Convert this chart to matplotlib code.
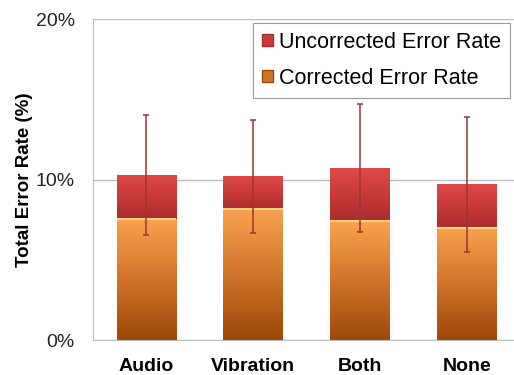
import numpy as np
import matplotlib.pyplot as plt
from matplotlib.colors import LinearSegmentedColormap
from matplotlib.patches import Patch

plt.rcParams['font.family'] = ['Liberation Sans', 'DejaVu Sans']

# data (percent)
conditions = ["Audio", "Vibration", "Both", "None"]
corrected = [7.55, 8.15, 7.4, 7.0]
total = [10.3, 10.2, 10.7, 9.7]
total_err = [3.75, 3.52, 4.0, 4.2]
uncorrected = [t - c for t, c in zip(total, corrected)]
yticks = [0, 10, 20]

orange_cmap = LinearSegmentedColormap.from_list("orange", ["#9C4808", "#D0742A", "#F9A24E"])
red_cmap = LinearSegmentedColormap.from_list("red", ["#A82C2C", "#C93A3A", "#DE4949"])

fig = plt.figure(figsize=(5.14, 3.75), dpi=100)
ax = fig.add_axes([0.181, 0.0933, 0.832, 0.856])

x = np.arange(len(conditions))
width = 0.56
grad = np.linspace(0, 1, 256).reshape(-1, 1)

bars_c = ax.bar(x, corrected, width, color="none", edgecolor="none", zorder=2)
bars_u = ax.bar(x, uncorrected, width, bottom=corrected, color="none", edgecolor="none", zorder=2)

# fill each bar with a vertical gradient clipped to its shape
for bars, cmap in [(bars_c, orange_cmap), (bars_u, red_cmap)]:
    for b in bars:
        x0, y0 = b.get_x(), b.get_y()
        x1, y1 = x0 + b.get_width(), y0 + b.get_height()
        im = ax.imshow(grad, extent=[x0, x1, y0, y1], origin="lower", aspect="auto",
                       cmap=cmap, zorder=2)
        im.set_clip_path(b)

# light highlight at the top of the corrected segment
for xi, c in zip(x, corrected):
    ax.plot([xi - width / 2, xi + width / 2], [c, c], color="#FFD37E", lw=1.5, zorder=3,
            solid_capstyle="butt")

ax.errorbar(x, total, yerr=total_err, fmt="none", ecolor="#A23232", elinewidth=1.1,
            capsize=2, capthick=1.1, zorder=4)

ax.set_xlim(-0.5, len(conditions) - 0.5)
ax.set_ylim(0, 20)
ax.set_yticks(yticks)
ax.set_yticklabels([f"{t}%" for t in yticks], fontsize=14, color="#222222")
ax.set_xticks(x)
ax.set_xticklabels(conditions, fontsize=14, fontweight="bold")
ax.tick_params(axis="both", length=0)
ax.tick_params(axis="x", pad=13)
ax.tick_params(axis="y", pad=13)
ax.set_ylabel("Total Error Rate (%)", fontsize=13.5, fontweight="bold", labelpad=2)

ax.grid(axis="y", color="#BFBFBF", lw=1)
ax.set_axisbelow(True)
for s in ["left", "bottom"]:
    ax.spines[s].set_color("#BFBFBF")
ax.spines["top"].set_visible(False)
ax.spines["right"].set_visible(False)

handles = [Patch(facecolor="#C93A3A", edgecolor="#A82C2C"),
           Patch(facecolor="#D0742A", edgecolor="#9C4808")]
leg = fig.legend(handles, ["Uncorrected Error Rate", "Corrected Error Rate"],
                 loc="upper left", bbox_to_anchor=(0.492, 0.939), fontsize=15.5,
                 fancybox=False, edgecolor="#808080", handlelength=0.5, handleheight=0.5,
                 handletextpad=0.3, labelspacing=0.7, borderpad=0.42, borderaxespad=0)
leg.get_frame().set_linewidth(0.8)

fig.savefig("out.png", dpi=100)
